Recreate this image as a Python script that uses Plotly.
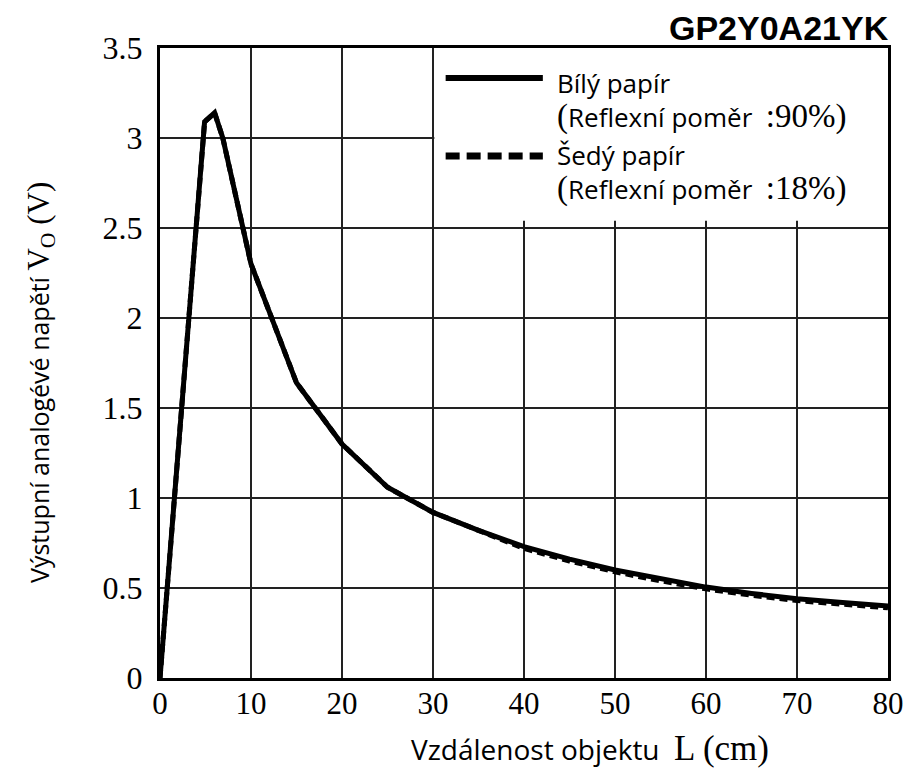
import plotly.graph_objects as go

# Distance to reflective object (cm)
distance_cm = [0, 4.9, 6.0, 6.9, 10, 15, 20, 25, 30, 35, 40, 45, 50, 55, 60, 65, 70, 75, 80]
# Analog output voltage for white paper (90 % reflectance)
white_v = [0, 3.09, 3.14, 3.00, 2.30, 1.64, 1.30, 1.06, 0.92, 0.82, 0.73, 0.66, 0.60, 0.55, 0.505, 0.47, 0.44, 0.42, 0.40]
# Analog output voltage for grey paper (18 % reflectance)
grey_v = [0, 3.09, 3.14, 3.00, 2.30, 1.64, 1.30, 1.06, 0.92, 0.82, 0.72, 0.65, 0.59, 0.54, 0.495, 0.46, 0.43, 0.41, 0.39]

x_ticks = [0, 10, 20, 30, 40, 50, 60, 70, 80]
y_ticks = [0, 0.5, 1, 1.5, 2, 2.5, 3, 3.5]
y_tick_text = ["0", "0.5", "1", "1.5", "2", "2.5", "3", "3.5"]

W, H = 916, 776
L, R, T, B = 160, 22, 48, 98
SERIF = "Liberation Serif, Times New Roman, serif"
SANS = "Open Sans, Noto Sans, sans-serif"


def px(x):
    return (x - L) / (W - L - R)


def py(y):
    return (H - B - y) / (H - T - B)


def serif(text, size):
    return f"<span style='font-family:Liberation Serif;font-size:{size}px'>{text}</span>"


fig = go.Figure()
fig.add_trace(go.Scatter(x=distance_cm, y=grey_v, mode="lines",
                         line=dict(color="black", width=5, dash="8px,5px"),
                         showlegend=False))
fig.add_trace(go.Scatter(x=distance_cm, y=white_v, mode="lines",
                         line=dict(color="black", width=5),
                         showlegend=False))

# white legend panel hiding the grid in the upper right corner
fig.add_shape(type="rect", xref="x", yref="y", x0=30.15, x1=80, y0=2.54, y1=3.5,
              fillcolor="white", line=dict(width=0), layer="between")

# legend line samples
fig.add_shape(type="line", xref="paper", yref="paper", x0=px(448), x1=px(546), y0=py(78), y1=py(78),
              line=dict(color="black", width=6))
fig.add_shape(type="line", xref="paper", yref="paper", x0=px(448), x1=px(546), y0=py(156), y1=py(156),
              line=dict(color="black", width=7, dash="14px,7px"))

legend_blocks = [
    ("Bílý papír<br>" + serif("(", 33) + "Reflexní poměr&nbsp; " + serif(":90%)", 33), 100),
    ("Šedý papír<br>" + serif("(", 33) + "Reflexní poměr&nbsp; " + serif(":18%)", 33), 172),
]
for text, y in legend_blocks:
    fig.add_annotation(text=text, xref="paper", yref="paper", x=px(558), y=py(y),
                       xanchor="left", yanchor="middle", align="left", showarrow=False,
                       font=dict(family=SANS, size=26, color="black"))

fig.add_annotation(text="<b>GP2Y0A21YK</b>", xref="paper", yref="paper", x=px(897), y=py(28),
                   xanchor="right", yanchor="middle", showarrow=False,
                   font=dict(family="Liberation Sans, Arial, sans-serif", size=34, color="black"))

# axis titles
fig.add_annotation(text="Vzdálenost objektu&nbsp; " + serif("L (cm)", 35),
                   xref="paper", yref="paper", x=px(594), y=py(748),
                   xanchor="center", yanchor="middle", showarrow=False,
                   font=dict(family=SANS, size=28, color="black"))
fig.add_annotation(text="Výstupní analogévé napětí " + serif("V<sub>O</sub> (V)", 31),
                   xref="paper", yref="paper", x=px(40), y=py(382), textangle=-90,
                   xanchor="center", yanchor="middle", showarrow=False,
                   font=dict(family=SANS, size=25, color="black"))

axis_common = dict(showline=True, linecolor="black", linewidth=3, mirror=True,
                   showgrid=True, gridcolor="#222", gridwidth=1.6, zeroline=False,
                   ticks="")

fig.update_xaxes(range=[0, 80], tickvals=x_ticks, ticktext=[str(v) for v in x_ticks],
                 ticklabelstandoff=-4, tickfont=dict(family=SERIF, size=31, color="black"),
                 **axis_common)
fig.update_yaxes(range=[0, 3.5], tickvals=y_ticks, ticktext=y_tick_text,
                 ticklabelstandoff=8, tickfont=dict(family=SERIF, size=32, color="black"),
                 **axis_common)

fig.update_layout(width=W, height=H, margin=dict(l=L, r=R, t=T, b=B),
                  plot_bgcolor="white", paper_bgcolor="white")

fig.write_html("out.html")
